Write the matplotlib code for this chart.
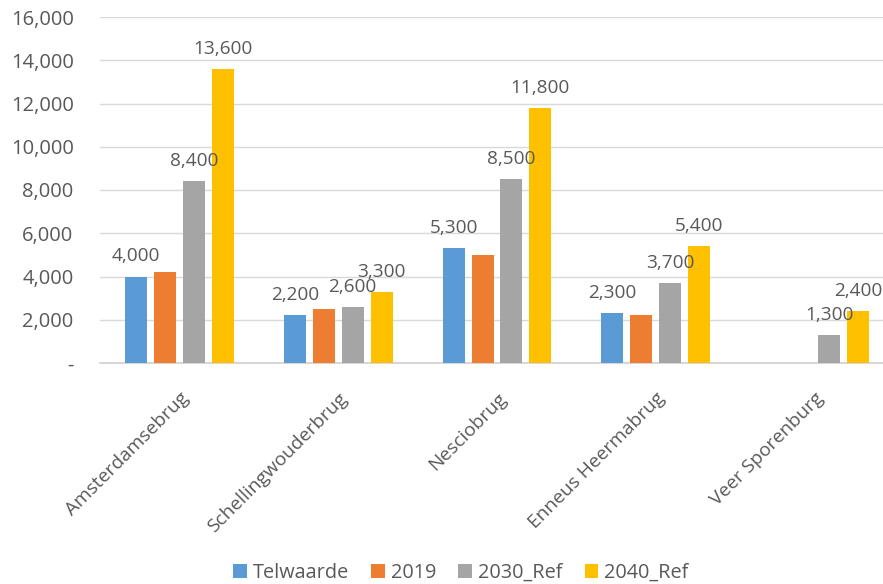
import matplotlib
matplotlib.use("Agg")
import matplotlib.pyplot as plt
from matplotlib.ticker import FuncFormatter
import numpy as np

plt.rcParams['font.family'] = ['Open Sans', 'DejaVu Sans']

bridges = ["Amsterdamsebrug", "Schellingwouderbrug", "Nesciobrug",
           "Enneus Heermabrug", "Veer Sporenburg"]
series_names = ["Telwaarde", "2019", "2030_Ref", "2040_Ref"]
telwaarde = [4000, 2200, 5300, 2300, 0]
y2019 = [4200, 2500, 5000, 2200, 0]
ref2030 = [8400, 2600, 8500, 3700, 1300]
ref2040 = [13600, 3300, 11800, 5400, 2400]
# which series carry value labels
labelled = [True, False, True, True]

colors = ["#5B9BD5", "#ED7D31", "#A5A5A5", "#FFC000"]
text_color = "#595959"

fig = plt.figure(figsize=(8.83, 5.84), dpi=100)
# plot area runs past the right edge of the figure
ax = fig.add_axes([100 / 883, 1 - 363 / 584, 794 / 883, 346 / 584])

x = np.arange(len(bridges))
width = 0.138
pitch = 0.182
values = [telwaarde, y2019, ref2030, ref2040]
for i, (name, vals, c) in enumerate(zip(series_names, values, colors)):
    offs = (i - 1.5) * pitch
    ax.bar(x + offs, vals, width, color=c, label=name, zorder=3)
    if labelled[i]:
        for xi, v in zip(x + offs, vals):
            if v > 0:
                ax.annotate(f"{v:,}", (xi, v), xytext=(0, 8),
                            textcoords="offset points", ha="center",
                            va="bottom", fontsize=13.7, color=text_color,
                            zorder=4)

ax.set_xlim(-0.5, len(bridges) - 0.5)
ax.set_ylim(0, 16000)
ax.set_yticks(np.arange(0, 16001, 2000))
ax.yaxis.set_major_formatter(FuncFormatter(
    lambda v, p: "-" if v == 0 else f"{int(v):,}"))
ax.grid(axis="y", color="#D9D9D9", linewidth=1, zorder=0)
for s in ["top", "right", "left"]:
    ax.spines[s].set_visible(False)
ax.spines["bottom"].set_color("#D0D0D0")
ax.spines["bottom"].set_linewidth(1.2)
ax.tick_params(axis="y", length=0, pad=19, labelsize=14.5, labelcolor=text_color)
ax.tick_params(axis="x", length=0, pad=19, labelsize=13.8, labelcolor=text_color)
ax.set_xticks(x)
ax.set_xticklabels(bridges, rotation=45, ha="right", rotation_mode="anchor")

handles, labels = ax.get_legend_handles_labels()
fig.legend(handles, labels, loc="center", bbox_to_anchor=(461 / 883, 1 - 573 / 584),
           ncol=4, frameon=False, fontsize=14.3, labelcolor=text_color,
           handlelength=0.7, handleheight=0.7, handletextpad=0.3,
           columnspacing=1.1)

fig.savefig("out.png", dpi=100)
